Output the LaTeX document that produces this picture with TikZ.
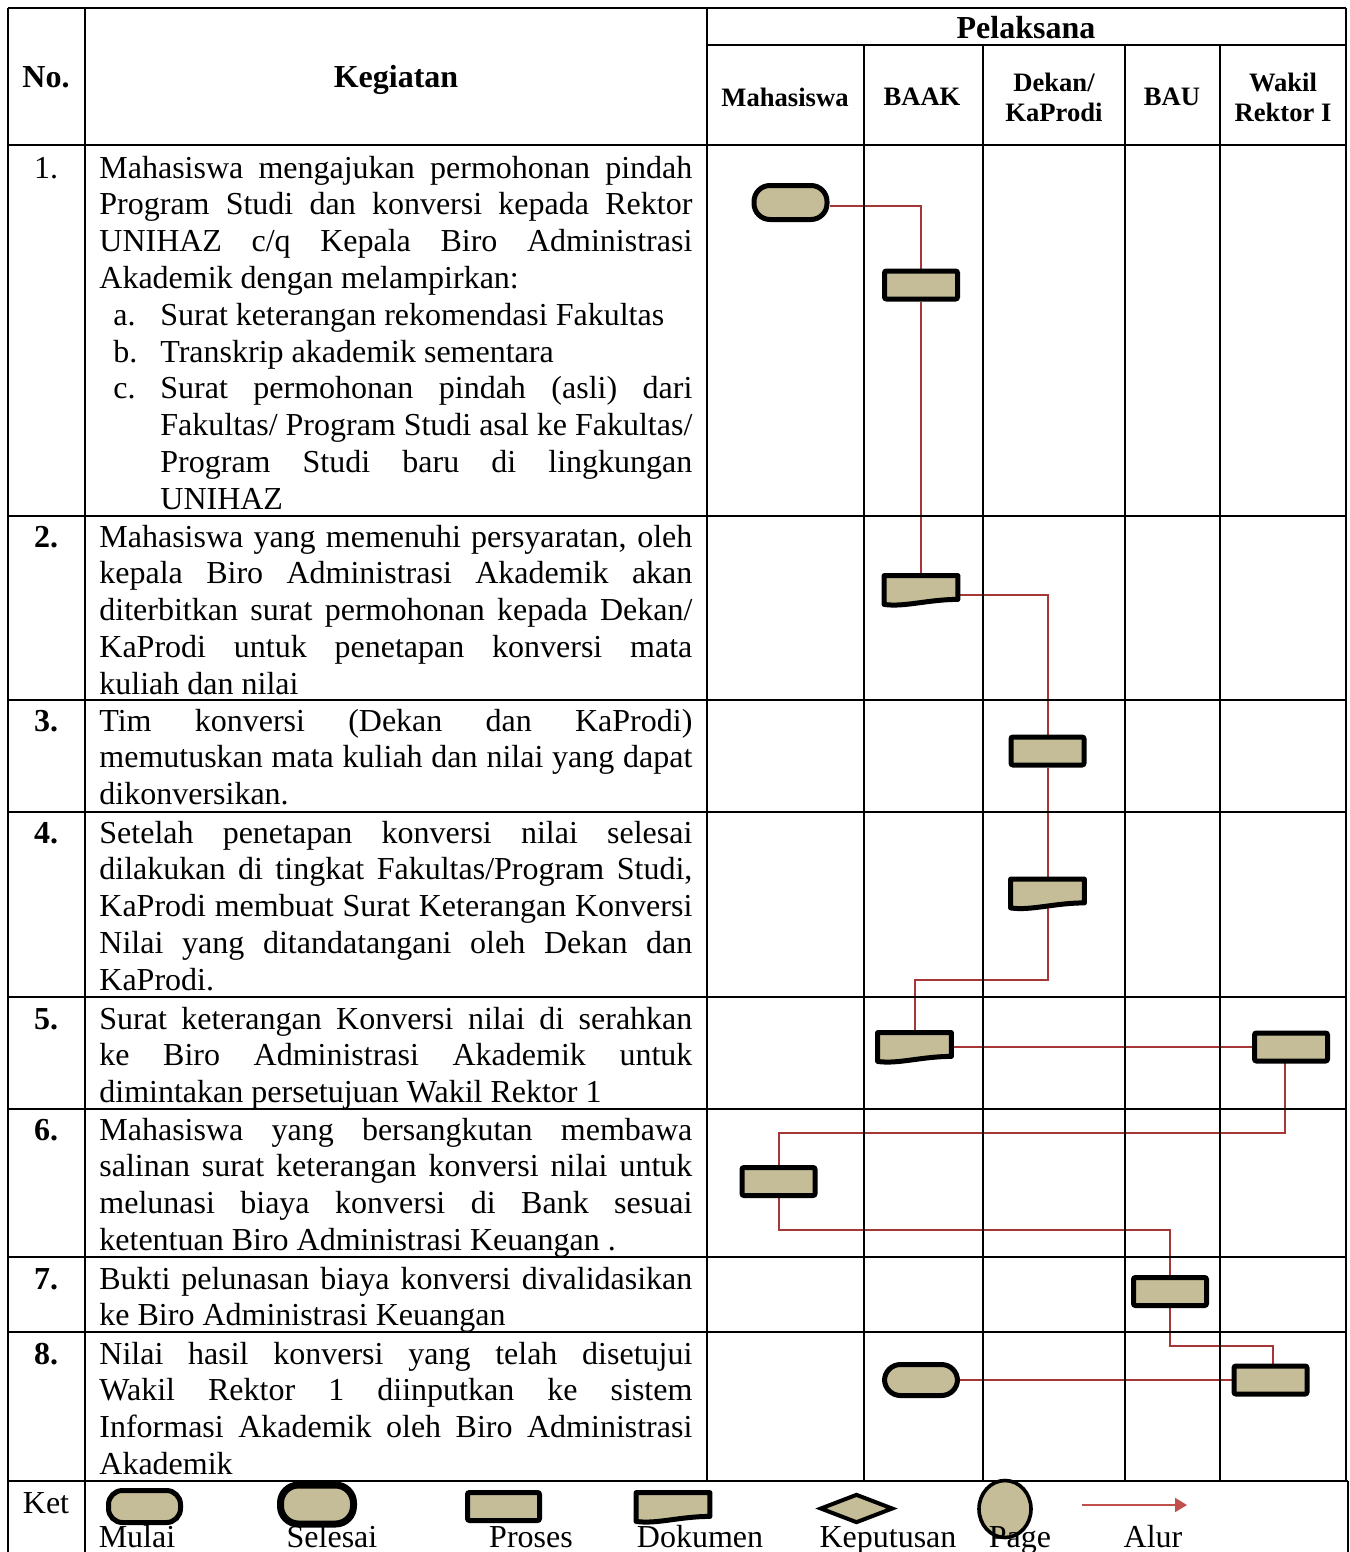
\documentclass[tikz,border=0pt]{standalone}
\usepackage{fontspec}
\setmainfont{Liberation Serif}
\usetikzlibrary{backgrounds, shapes.geometric, arrows.meta}

\definecolor{krem}{RGB}{196,189,151}
\definecolor{merah}{RGB}{165,55,55}
\definecolor{merahket}{RGB}{192,80,77}

\newcommand{\teksisi}{\fontsize{16}{18.4}\selectfont
  \tolerance=10000 \hbadness=10000 \hyphenpenalty=10000 \exhyphenpenalty=10000 }
\newcommand{\butir}[2]{\hspace*{7pt}\makebox[23.5pt][l]{#1}\parbox[t]{266pt}{#2}}
\newcommand{\dokumen}[2]{%
  \node at (#2) [dokbox, name = #1] {};
  \draw [dokline] (#1.north west) -- (#1.north east)
    -- ([yshift = 2.5pt]#1.south east)
    .. controls ([xshift = 22pt, yshift = 2.5pt]#1.south west)
    and ([xshift = 10pt, yshift = -1.5pt]#1.south west) .. (#1.south west)
    -- cycle;}

\begin{document}
\begin{tikzpicture}[
    x = 0.5pt, y = -0.5pt,
    garis/.style = {line width = 1.2pt},
    isi/.style = {anchor = base west, inner sep = 0pt,
      text width = 296.5pt, align = justify, font = \teksisi},
    nomor/.style = {anchor = base, inner sep = 0pt, font = \teksisi},
    judul/.style = {anchor = base, inner sep = 0pt, font = \teksisi\bfseries},
    kolom/.style = {inner sep = 0pt, align = center,
      font = \bfseries\fontsize{13.3}{15}\selectfont},
    simbol/.style = {draw, fill = krem, line width = 2.5pt, inner sep = 0pt},
    terminal/.style = {simbol, rectangle, rounded corners = 8pt,
      minimum width = 36.5pt, minimum height = 17pt},
    proses/.style = {simbol, rectangle, rounded corners = 1pt,
      minimum width = 36.5pt, minimum height = 14pt},
    dokbox/.style = {rectangle, inner sep = 0pt,
      minimum width = 36.5pt, minimum height = 14pt},
    dokline/.style = {draw, fill = krem, line width = 2.5pt, line join = round},
    alur/.style = {draw = merah, line width = 1pt}
    ]

    \useasboundingbox (0, 0) rectangle (1349, 1552);

    % tabel
    \draw [garis] (8, 8) -- (1346, 8);
    \draw [garis] (707, 45) -- (1346, 45);
    \foreach \y in {145, 516, 700, 812, 997, 1109, 1257, 1332}
      \draw [garis] (8, \y) -- (1346, \y);
    \draw [garis] (8, 1481) -- (1348, 1481);
    \draw [garis] (8, 8) -- (8, 1560);
    \draw [garis] (85, 8) -- (85, 1560);
    \draw [garis] (707, 8) -- (707, 1481);
    \foreach \x in {864, 983, 1125, 1220}
      \draw [garis] (\x, 45) -- (\x, 1481);
    \draw [garis] (1346, 8) -- (1346, 1481);
    \draw [garis] (1348, 1481) -- (1348, 1560);

    % judul
    \node at (46, 88) [judul, name = hno] {No.};
    \node at (396, 88) [judul, name = hkeg] {Kegiatan};
    \node at (1026, 39) [judul, name = hpel] {Pelaksana};
    \node at (785, 97) [kolom, name = cmhs] {Mahasiswa};
    \node at (922, 97) [kolom, name = cbaak] {BAAK};
    \node at (1054, 97) [kolom, name = cdekan] {Dekan/\\KaProdi};
    \node at (1172, 97) [kolom, name = cbau] {BAU};
    \node at (1283, 97) [kolom, name = cwr] {Wakil\\Rektor I};

    % nomor
    \node at (46, 178) [nomor, name = n1] {1.};
    \node at (46, 547) [judul, name = n2] {2.};
    \node at (46, 731) [judul, name = n3] {3.};
    \node at (46, 843) [judul, name = n4] {4.};
    \node at (46, 1029) [judul, name = n5] {5.};
    \node at (46, 1140) [judul, name = n6] {6.};
    \node at (46, 1289) [judul, name = n7] {7.};
    \node at (46, 1364) [judul, name = n8] {8.};

    % kegiatan
    \node at (99, 178) [isi, name = k1] {Mahasiswa mengajukan permohonan pindah\linebreak
      Program Studi dan konversi kepada Rektor\linebreak
      UNIHAZ c/q Kepala Biro Administrasi\linebreak
      Akademik dengan melampirkan:\par
      \butir{a.}{Surat keterangan rekomendasi Fakultas}\par
      \butir{b.}{Transkrip akademik sementara}\par
      \butir{c.}{Surat permohonan pindah (asli) dari\linebreak
      Fakultas/ Program Studi asal ke Fakultas/\linebreak
      Program Studi baru di lingkungan\linebreak
      UNIHAZ}};
    \node at (99, 547) [isi, name = k2] {Mahasiswa yang memenuhi persyaratan, oleh\linebreak
      kepala Biro Administrasi Akademik akan\linebreak
      diterbitkan surat permohonan kepada Dekan/\linebreak
      KaProdi untuk penetapan konversi mata\linebreak
      kuliah dan nilai};
    \node at (99, 731) [isi, name = k3] {Tim konversi (Dekan dan KaProdi)\linebreak
      memutuskan mata kuliah dan nilai yang dapat\linebreak
      dikonversikan.};
    \node at (99, 843) [isi, name = k4] {Setelah penetapan konversi nilai selesai\linebreak
      dilakukan di tingkat Fakultas/Program Studi,\linebreak
      KaProdi membuat Surat Keterangan Konversi\linebreak
      Nilai yang ditandatangani oleh Dekan dan\linebreak
      KaProdi.};
    \node at (99, 1029) [isi, name = k5] {Surat keterangan Konversi nilai di serahkan\linebreak
      ke Biro Administrasi Akademik untuk\linebreak
      dimintakan persetujuan Wakil Rektor 1};
    \node at (99, 1140) [isi, name = k6] {Mahasiswa yang bersangkutan membawa\linebreak
      salinan surat keterangan konversi nilai untuk\linebreak
      melunasi biaya konversi di Bank sesuai\linebreak
      ketentuan Biro Administrasi Keuangan .};
    \node at (99, 1289) [isi, name = k7] {Bukti pelunasan biaya konversi divalidasikan\linebreak
      ke Biro Administrasi Keuangan};
    \node at (99, 1364) [isi, name = k8] {Nilai hasil konversi yang telah disetujui\linebreak
      Wakil Rektor 1 diinputkan ke sistem\linebreak
      Informasi Akademik oleh Biro Administrasi\linebreak
      Akademik};

    % alur
    \node at (790.5, 202.5) [terminal, name = m1] {};
    \node at (921, 285) [proses, name = p1] {};
    \dokumen{d1}{921, 590}
    \node at (1047.5, 751) [proses, name = p2] {};
    \dokumen{d2}{1047.5, 893.5}
    \dokumen{d3}{914.5, 1047}
    \node at (1291, 1047) [proses, name = p3] {};
    \node at (778.5, 1181.5) [proses, name = p4] {};
    \node at (1170, 1291.5) [proses, name = p5] {};
    \node at (1270.5, 1380) [proses, name = p6] {};
    \node at (921, 1380) [terminal, minimum height = 15.5pt, name = s1] {};

    \begin{scope}[on background layer]
      \draw [alur] ([yshift = -1.5pt]m1.east) -| (p1);
      \draw [alur] (p1) -- (d1);
      \draw [alur] ([yshift = -2.5pt]d1.east) -| (p2);
      \draw [alur] (p2) -- (d2);
      \draw [alur] (d2) -- ++(0, 86) -| (d3);
      \draw [alur] (d3) -- (p3);
      \draw [alur] ([xshift = -3pt]p3.center) -- ++(0, 86) -| (p4);
      \draw [alur] (p4) -- ++(0, 48.5) -| (p5);
      \draw [alur] (p5) -- ++(0, 54.5) -| ([xshift = 1pt]p6.center);
      \draw [alur] (s1) -- (p6);
    \end{scope}

    % keterangan
    \node at (46, 1513) [nomor, name = ket] {Ket};
    \node at (144.5, 1506.5) [terminal, rounded corners = 7pt,
      minimum width = 36pt, minimum height = 16pt, name = kmulai] {};
    \node at (317, 1504.5) [terminal, line width = 3.5pt, rounded corners = 9pt,
      minimum width = 36.5pt, minimum height = 19.5pt, name = kselesai] {};
    \node at (503.5, 1506.5) [proses, minimum width = 36pt, name = kproses] {};
    \dokumen{kdokumen}{673, 1507}
    \node at (856.5, 1508.5) [simbol, diamond, line width = 2pt,
      minimum width = 36.5pt, minimum height = 14.5pt, name = kkeputusan] {};
    \node at (1005, 1509) [simbol, ellipse, line width = 1.8pt,
      minimum width = 26pt, minimum height = 28.5pt, name = kpage] {};
    \coordinate (alur1) at (1082, 1505);
    \coordinate (alur2) at (1187, 1505);
    \draw [draw = merahket, line width = 1pt,
      -{Triangle[length = 6pt, width = 7pt]}] (alur1) -- (alur2);

    \node at (137, 1547) [nomor, name = lmulai] {Mulai};
    \node at (332, 1547) [nomor, name = lselesai] {Selesai};
    \node at (531, 1547) [nomor, name = lproses] {Proses};
    \node at (700, 1547) [nomor, name = ldokumen] {Dokumen};
    \node at (888, 1547) [nomor, name = lkeputusan] {Keputusan};
    \node at (1020, 1547) [nomor, name = lpage] {Page};
    \node at (1153, 1547) [nomor, name = lalur] {Alur};
  \end{tikzpicture}
\end{document}
